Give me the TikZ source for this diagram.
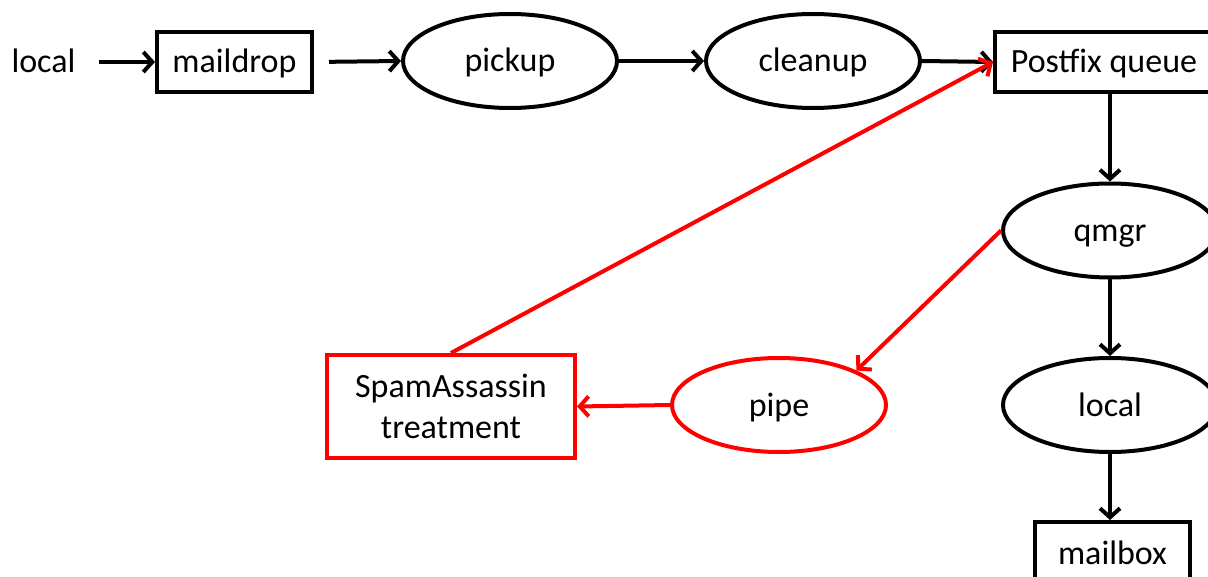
\documentclass[tikz,border=0pt]{standalone}
\usepackage{fontspec}
\setmainfont{Carlito}
\usetikzlibrary{shapes.geometric,arrows.meta}
\tikzset{
  base/.style={line width=4pt, inner sep=0pt, font=\fontsize{34}{41}\selectfont, text=black},
  oneline/.style={text height=29pt, text depth=7pt},
  boxnode/.style={base, oneline, draw=black, rectangle},
  ellnode/.style={base, oneline, draw=black, ellipse, minimum width=214pt, minimum height=94pt},
  redbox/.style={base, draw=red, rectangle, align=center},
  redell/.style={base, oneline, draw=red, ellipse, minimum width=214pt, minimum height=94pt},
  conn/.style={line width=4pt, -{Straight Barb[length=9pt,width=20pt,line width=4pt]}},
  redconn/.style={conn, draw=red},
}
\begin{document}
\begin{tikzpicture}[x=1pt,y=-1pt]
\useasboundingbox (0,0) rectangle (1208,577);
\node[base, oneline] (src) at (43.5,62) {local};
\node[boxnode, minimum width=155pt, minimum height=60pt] (maildrop) at (234.5,62) {maildrop};
\node[ellnode] (pickup) at (510,61) {pickup};
\node[ellnode] (cleanup) at (813,61) {cleanup};
\node[boxnode, minimum width=218pt, minimum height=60pt] (queue) at (1104,62) {Postfix queue};
\node[ellnode] (qmgr) at (1110,230.5) {qmgr};
\node[ellnode] (local) at (1110,405) {local};
\node[boxnode, minimum width=155pt, minimum height=62pt] (mailbox) at (1112.5,553) {mailbox};
\node[redell] (pipe) at (779,405) {pipe};
\node[redbox, minimum width=248pt, minimum height=103pt] (spam) at (451,406.5) {SpamAssassin\\treatment};

\draw[conn, shorten <=22pt] (src.east) -- (maildrop.west);
\draw[conn, shorten <=15pt] (maildrop.east) -- (pickup.west);
\draw[conn] (pickup.east) -- (cleanup.west);
\draw[conn] (cleanup.east) -- (queue.west);
\draw[conn] (queue.south -| qmgr.north) -- (qmgr.north);
\draw[conn] (qmgr.south) -- (local.north);
\draw[conn] (local.south) -- (local.south |- mailbox.north);
\draw[redconn] (qmgr.west) -- (pipe.24);
\draw[redconn] (pipe.west) -- (spam.east);
\draw[redconn] (spam.north) -- (queue.west);
\end{tikzpicture}
\end{document}
